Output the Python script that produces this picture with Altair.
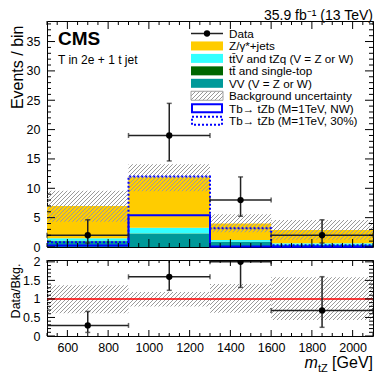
import altair as alt
import pandas as pd
import numpy as np

# ---------------- data ----------------
edges = [500, 900, 1300, 1600, 2100]
proc_names = ["VV (V = Z or W)", "tt\u0304 and single-top", "ttV and tZq", "Z/\u03b3*+jets"]
vv = [1.0, 2.2, 0.85, 0.35]
ttbar = [0.05, 0.1, 0.05, 0.05]
ttv = [0.45, 1.0, 0.3, 0.25]
zjets = [5.5, 8.6, 2.8, 2.25]
unc_lo = [4.3, 9.5, 2.5, 1.25]
unc_hi = [9.6, 14.1, 5.6, 4.6]
data_x = [700, 1100, 1450, 1850]
data_y = [2, 19, 8, 2]
data_lo = [0.68, 14.66, 5.24, 0.68]
data_hi = [4.64, 24.47, 11.94, 4.64]
sig_nw = [0.25, 5.4, 0.1, 0.05]
sig_30 = [0.8, 12.0, 3.2, 0.3]
x_labels = [600, 800, 1000, 1200, 1400, 1600, 1800, 2000]
main_labels = [0, 5, 10, 15, 20, 25, 30, 35]
ratio_labels = [0, 0.5, 1, 1.5, 2]

colors = ["#009999", "#006600", "#33ffff", "#ffcc00"]

# ---------------- layout ----------------
W, H, H2 = 326, 226, 76
XD = [500, 2100]
YD = [0, 38.5]
RD = [0, 2.05]
pxx = W / (XD[1] - XD[0])
pxy = H / (YD[1] - YD[0])
pxr = H2 / (RD[1] - RD[0])
FONT = "Liberation Sans"

lo_e = edges[:-1]
hi_e = edges[1:]
total = [a + b + c + d for a, b, c, d in zip(vv, ttbar, ttv, zjets)]

rows = []
for i in range(4):
    cum = 0.0
    for name, arr in zip(proc_names, [vv, ttbar, ttv, zjets]):
        rows.append(dict(x0=lo_e[i], x1=hi_e[i], y0=cum, y1=cum + arr[i], proc=name))
        cum += arr[i]
stack_df = pd.DataFrame(rows)

data_df = pd.DataFrame(dict(x=data_x, y=data_y, lo=data_lo, hi=data_hi, x0=lo_e, x1=hi_e))
ratio_df = pd.DataFrame(dict(
    x=data_x, x0=lo_e, x1=hi_e,
    y=[a / t for a, t in zip(data_y, total)],
    lo=[a / t for a, t in zip(data_lo, total)],
    hi=[a / t for a, t in zip(data_hi, total)],
))
sig_df = pd.DataFrame(dict(x=edges, nw=sig_nw + [sig_nw[-1]], w30=sig_30 + [sig_30[-1]]))

xs = alt.Scale(domain=XD, nice=False, zero=False)
ys = alt.Scale(domain=YD, nice=False, zero=False)
rs = alt.Scale(domain=RD, nice=False, zero=False)

yaxis_main = alt.Axis(values=main_labels, title="Events / bin", titleFontSize=16, titleFont=FONT,
                      titleFontWeight="normal", titleAngle=270, titleAlign="right", titleBaseline="top",
                      titleX=-38, titleY=4, labelPadding=7, labelFlush=False, labelOverlap=False,
                      titleColor="black")
yaxis_ratio = alt.Axis(values=ratio_labels, format="~g", title="Data/Bkg.", titleFontSize=12.5,
                       titleFont=FONT, titleFontWeight="normal", titleAngle=270, titleAlign="right",
                       titleBaseline="top", titleX=-38, titleY=3, labelPadding=7, labelFlush=False,
                       labelOverlap=False, titleColor="black")
xaxis_ratio = alt.Axis(values=x_labels, format="d", title=None, labelPadding=5, labelFlush=False,
                       labelOverlap=False)


def MX(f):
    return alt.X(f, type="quantitative", scale=xs, axis=None)


def MY(f):
    return alt.Y(f, type="quantitative", scale=ys, axis=yaxis_main)


def RX(f):
    return alt.X(f, type="quantitative", scale=xs, axis=xaxis_ratio)


def RY(f):
    return alt.Y(f, type="quantitative", scale=rs, axis=yaxis_ratio)


def hatch(w, h, p=4.0, lw=1.2, col="#9a9a9a"):
    tot = w + h
    k = (w + h) * w / (w * w + h * h)
    clear = "rgba(255,255,255,0)"
    stops = [{"offset": 0, "color": clear}]
    n = int(tot // p) + 1
    for i in range(n):
        a = i * p / tot
        if a >= 1:
            break
        b = min((i * p + lw) / tot, 1)
        stops += [{"offset": a, "color": clear}, {"offset": a, "color": col},
                  {"offset": b, "color": col}, {"offset": b, "color": clear}]
    stops.append({"offset": 1, "color": clear})
    return {"gradient": "linear", "x1": 0, "y1": 0, "x2": k, "y2": k * h / w, "stops": stops}


one = pd.DataFrame({"a": [0]})


def tick_layers(X, Y, xmaj, xmin, ymaj, ymin, w, h, xl, yl):
    out = []
    for vals, L in [(xmaj, xl[0]), (xmin, xl[1])]:
        d = pd.DataFrame({"v": vals})
        out.append(alt.Chart(d).mark_rule(color="black", strokeWidth=1).encode(
            x=X("v"), y=alt.value(h), y2=alt.value(h - L)))
        out.append(alt.Chart(d).mark_rule(color="black", strokeWidth=1).encode(
            x=X("v"), y=alt.value(0), y2=alt.value(L)))
    for vals, L in [(ymaj, yl[0]), (ymin, yl[1])]:
        d = pd.DataFrame({"v": vals})
        out.append(alt.Chart(d).mark_rule(color="black", strokeWidth=1).encode(
            y=Y("v"), x=alt.value(0), x2=alt.value(L)))
        out.append(alt.Chart(d).mark_rule(color="black", strokeWidth=1).encode(
            y=Y("v"), x=alt.value(w), x2=alt.value(w - L)))
    return out


x_major = list(range(600, 2001, 200))
x_minor = [v for v in range(500, 2101, 50) if v not in x_major]
m_major = main_labels
m_minor = [v for v in range(0, 39) if v % 5 != 0]
r_major = ratio_labels
r_minor = [round(v * 0.1, 2) for v in range(0, 21) if v % 5 != 0]

# ---------------- main panel ----------------
main_layers = []
main_layers.append(alt.Chart(stack_df).mark_rect().encode(
    x=MX("x0"), x2="x1", y=MY("y0"), y2="y1",
    color=alt.Color("proc:N", scale=alt.Scale(domain=proc_names, range=colors), legend=None)))
for i in range(4):
    w = (hi_e[i] - lo_e[i]) * pxx
    h = (unc_hi[i] - unc_lo[i]) * pxy
    d = pd.DataFrame(dict(x0=[lo_e[i]], x1=[hi_e[i]], y0=[unc_lo[i]], y1=[unc_hi[i]]))
    main_layers.append(alt.Chart(d).mark_rect(fill=hatch(w, h), strokeWidth=0).encode(
        x=MX("x0"), x2="x1", y=MY("y0"), y2="y1"))
main_layers.append(alt.Chart(sig_df).mark_line(interpolate="step-after", color="#0000ff", strokeWidth=2).encode(
    x=MX("x"), y=MY("nw")))
main_layers.append(alt.Chart(sig_df).mark_line(interpolate="step-after", color="#0000ff", strokeWidth=2,
                                               strokeDash=[2, 2]).encode(x=MX("x"), y=MY("w30")))
DC = "#222222"
main_layers.append(alt.Chart(data_df).mark_rule(color=DC, strokeWidth=1.5).encode(x=MX("x0"), x2="x1", y=MY("y")))
main_layers.append(alt.Chart(data_df).mark_rule(color=DC, strokeWidth=1.5).encode(x=MX("x"), y=MY("lo"), y2="hi"))
main_layers.append(alt.Chart(data_df).mark_tick(color=DC, orient="horizontal", size=5, thickness=1.5).encode(x=MX("x"), y=MY("lo")))
main_layers.append(alt.Chart(data_df).mark_tick(color=DC, orient="horizontal", size=5, thickness=1.5).encode(x=MX("x"), y=MY("hi")))
main_layers.append(alt.Chart(data_df).mark_tick(color=DC, orient="vertical", size=5, thickness=1.5).encode(x=MX("x0"), y=MY("y")))
main_layers.append(alt.Chart(data_df).mark_tick(color=DC, orient="vertical", size=5, thickness=1.5).encode(x=MX("x1"), y=MY("y")))
main_layers.append(alt.Chart(data_df).mark_circle(color="black", size=40, opacity=1).encode(x=MX("x"), y=MY("y")))
main_layers += tick_layers(MX, MY, x_major, x_minor, m_major, m_minor, W, H, (8, 4), (8, 4))

# legend
LX0, LX1, LT = 144, 176, 182
ry = [12.5 + 12.45 * i for i in range(8)]
leg_labels = ["Data", "Z/\u03b3*+jets", "tt\u0304V and tZq (V = Z or W)", "tt\u0304 and single-top",
              "VV (V = Z or W)", "Background uncertainty", "Tb\u2192 tZb (M=1TeV, NW)", "Tb\u2192 tZb (M=1TeV, 30%)"]
main_layers.append(alt.Chart(one).mark_rule(color=DC, strokeWidth=1.5).encode(
    x=alt.value(LX0), x2=alt.value(LX1), y=alt.value(ry[0])))
main_layers.append(alt.Chart(one).mark_circle(color="black", size=40, opacity=1).encode(
    x=alt.value((LX0 + LX1) / 2), y=alt.value(ry[0])))
for j, c in zip([1, 2, 3, 4], [colors[3], colors[2], colors[1], colors[0]]):
    main_layers.append(alt.Chart(one).mark_rect(color=c).encode(
        x=alt.value(LX0), x2=alt.value(LX1), y=alt.value(ry[j] - 4.5), y2=alt.value(ry[j] + 4.5)))
main_layers.append(alt.Chart(one).mark_rect(fill=hatch(32, 9), stroke="#a0a0a0", strokeWidth=1).encode(
    x=alt.value(LX0), x2=alt.value(LX1), y=alt.value(ry[5] - 4.5), y2=alt.value(ry[5] + 4.5)))
main_layers.append(alt.Chart(one).mark_rect(fill="white", stroke="#0000ff", strokeWidth=2).encode(
    x=alt.value(LX0 + 1), x2=alt.value(LX1 - 1), y=alt.value(ry[6] - 4), y2=alt.value(ry[6] + 4)))
main_layers.append(alt.Chart(one).mark_rect(fill="white", stroke="#0000ff", strokeWidth=2, strokeDash=[2, 2]).encode(
    x=alt.value(LX0 + 1), x2=alt.value(LX1 - 1), y=alt.value(ry[7] - 4), y2=alt.value(ry[7] + 4)))
for j, lab in enumerate(leg_labels):
    main_layers.append(alt.Chart(one).mark_text(text=lab, font=FONT, fontSize=11.7, align="left",
                                                baseline="middle", color="black").encode(
        x=alt.value(LT), y=alt.value(ry[j] + 0.5)))

main_layers.append(alt.Chart(one).mark_text(text="CMS", font=FONT, fontSize=19, fontWeight="bold",
                                            align="left", baseline="alphabetic", color="black").encode(
    x=alt.value(11), y=alt.value(24)))
main_layers.append(alt.Chart(one).mark_text(text="T in 2e + 1 t jet", font=FONT, fontSize=12,
                                            align="left", baseline="alphabetic", color="black").encode(
    x=alt.value(11), y=alt.value(43)))
main_layers.append(alt.Chart(one).mark_text(text="35.9 fb\u207b\u00b9 (13 TeV)", font=FONT, fontSize=14,
                                            align="right", baseline="alphabetic", color="black").encode(
    x=alt.value(W), y=alt.value(-1.5)))

main = alt.layer(*main_layers).properties(width=W, height=H)

# ---------------- ratio panel ----------------
r_layers = []
for i in range(4):
    a = unc_lo[i] / total[i]
    b = unc_hi[i] / total[i]
    w = (hi_e[i] - lo_e[i]) * pxx
    h = (b - a) * pxr
    d = pd.DataFrame(dict(x0=[lo_e[i]], x1=[hi_e[i]], y0=[a], y1=[b]))
    r_layers.append(alt.Chart(d).mark_rect(fill=hatch(w, h), strokeWidth=0).encode(
        x=RX("x0"), x2="x1", y=RY("y0"), y2="y1"))
r_layers.append(alt.Chart(pd.DataFrame({"v": [1]})).mark_rule(color="#ff0000", strokeWidth=1.5).encode(
    y=RY("v"), x=alt.value(0), x2=alt.value(W)))
r_layers.append(alt.Chart(ratio_df).mark_rule(color=DC, strokeWidth=1.5, clip=True).encode(x=RX("x0"), x2="x1", y=RY("y")))
r_layers.append(alt.Chart(ratio_df).mark_rule(color=DC, strokeWidth=1.5, clip=True).encode(x=RX("x"), y=RY("lo"), y2="hi"))
r_layers.append(alt.Chart(ratio_df).mark_tick(color=DC, orient="horizontal", size=5, thickness=1.5, clip=True).encode(x=RX("x"), y=RY("lo")))
r_layers.append(alt.Chart(ratio_df).mark_tick(color=DC, orient="horizontal", size=5, thickness=1.5, clip=True).encode(x=RX("x"), y=RY("hi")))
r_layers.append(alt.Chart(ratio_df).mark_tick(color=DC, orient="vertical", size=5, thickness=1.5, clip=True).encode(x=RX("x0"), y=RY("y")))
r_layers.append(alt.Chart(ratio_df).mark_tick(color=DC, orient="vertical", size=5, thickness=1.5, clip=True).encode(x=RX("x1"), y=RY("y")))
r_layers.append(alt.Chart(ratio_df).mark_circle(color="black", size=40, opacity=1, clip=True).encode(x=RX("x"), y=RY("y")))
r_layers += tick_layers(RX, RY, x_major, x_minor, r_major, r_minor, W, H2, (6, 3), (8, 4))

# x title m_tZ [GeV]
r_layers.append(alt.Chart(one).mark_text(text="[GeV]", font=FONT, fontSize=16, align="right",
                                         baseline="alphabetic", color="black").encode(
    x=alt.value(W), y=alt.value(108)))
r_layers.append(alt.Chart(one).mark_text(text="tZ", font=FONT, fontSize=11, align="right",
                                         baseline="alphabetic", color="black").encode(
    x=alt.value(W - 45.3), y=alt.value(111.5)))
r_layers.append(alt.Chart(one).mark_text(text="m", font=FONT, fontSize=16, fontStyle="italic", align="right",
                                         baseline="alphabetic", color="black").encode(
    x=alt.value(W - 55.1), y=alt.value(108)))

ratio = alt.layer(*r_layers).properties(width=W, height=H2)

chart = alt.vconcat(main, ratio, spacing=13, bounds="flush").properties(
    padding={"left": 0, "top": 0, "right": 0, "bottom": 0}
).configure_view(stroke="black", strokeWidth=1).configure_axis(
    labelFont=FONT, labelFontSize=12.5, labelColor="black", ticks=False, domain=False, grid=False
)

chart.save("out.html", embed_options={"renderer": "svg", "actions": False})
